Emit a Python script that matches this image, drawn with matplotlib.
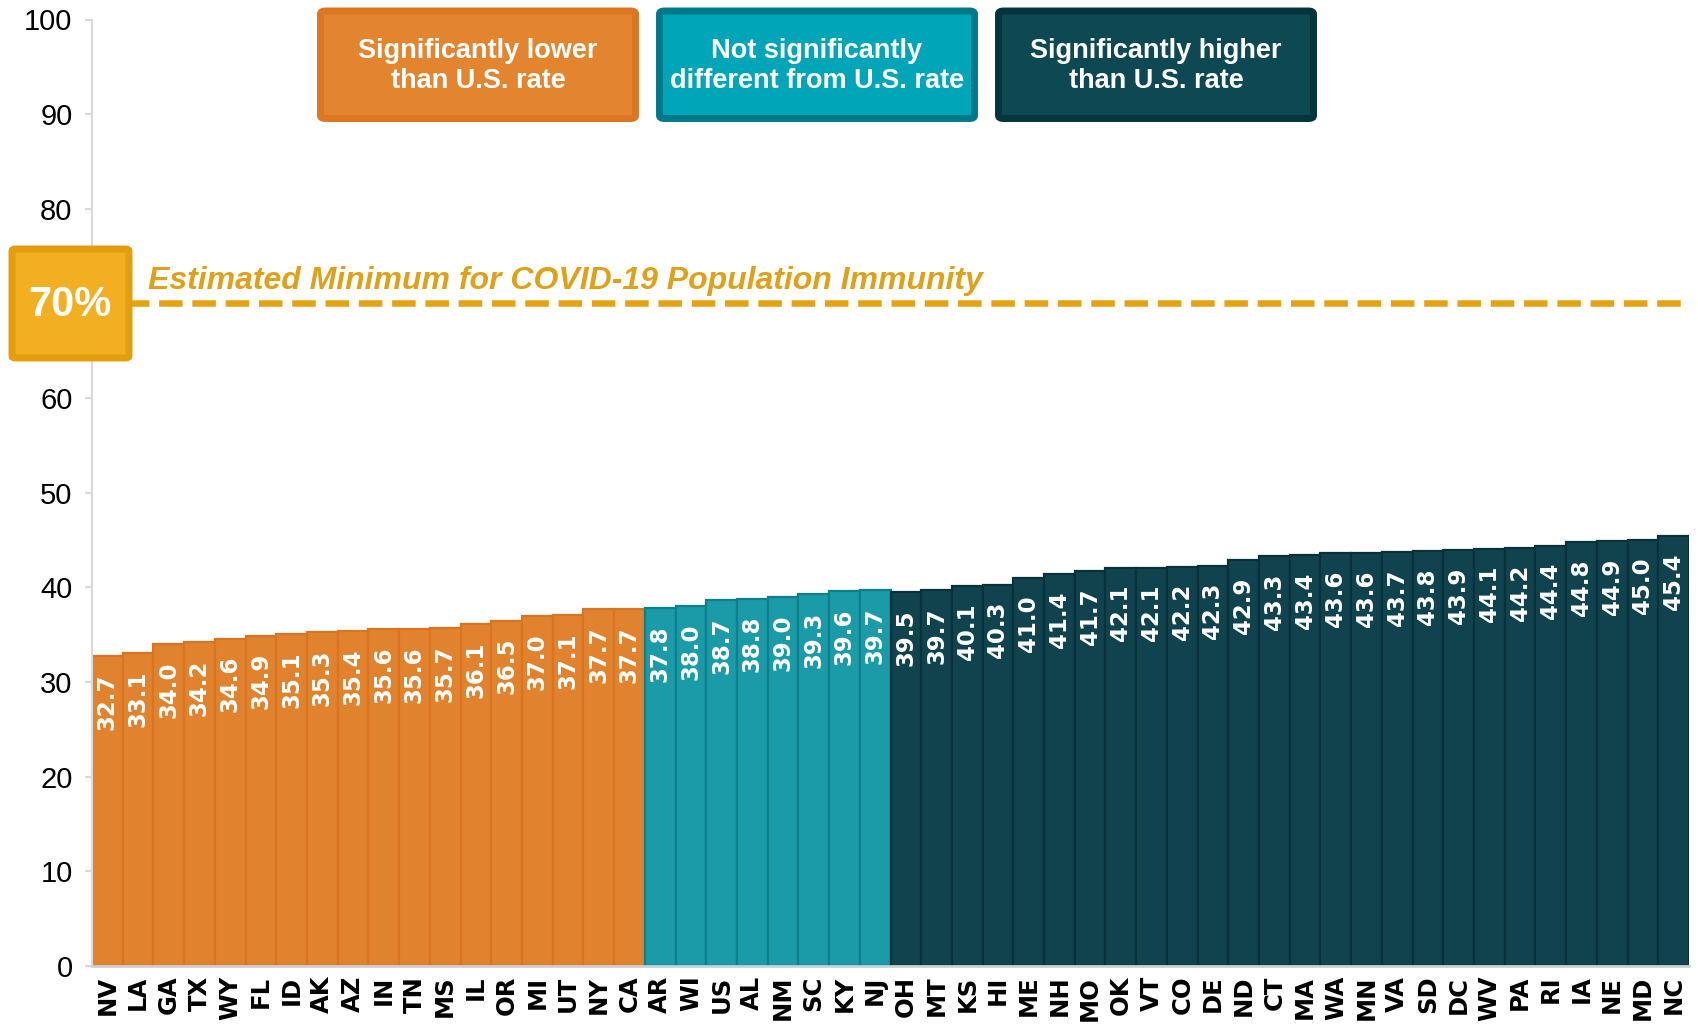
import matplotlib
matplotlib.use("Agg")
import matplotlib.pyplot as plt
from matplotlib.patches import FancyBboxPatch

states = ["NV", "LA", "GA", "TX", "WY", "FL", "ID", "AK", "AZ", "IN", "TN", "MS", "IL", "OR",
          "MI", "UT", "NY", "CA",
          "AR", "WI", "US", "AL", "NM", "SC", "KY", "NJ",
          "OH", "MT", "KS", "HI", "ME", "NH", "MO", "OK", "VT", "CO", "DE", "ND", "CT", "MA",
          "WA", "MN", "VA", "SD", "DC", "WV", "PA", "RI", "IA", "NE", "MD", "NC"]
rates = [32.7, 33.1, 34.0, 34.2, 34.6, 34.9, 35.1, 35.3, 35.4, 35.6, 35.6, 35.7, 36.1, 36.5,
         37.0, 37.1, 37.7, 37.7,
         37.8, 38.0, 38.7, 38.8, 39.0, 39.3, 39.6, 39.7,
         39.5, 39.7, 40.1, 40.3, 41.0, 41.4, 41.7, 42.1, 42.1, 42.2, 42.3, 42.9, 43.3, 43.4,
         43.6, 43.6, 43.7, 43.8, 43.9, 44.1, 44.2, 44.4, 44.8, 44.9, 45.0, 45.4]
significance = ["lower"] * 18 + ["similar"] * 8 + ["higher"] * 26
legend_labels = ["Significantly lower\nthan U.S. rate",
                 "Not significantly\ndifferent from U.S. rate",
                 "Significantly higher\nthan U.S. rate"]
yticks = [0, 10, 20, 30, 40, 50, 60, 70, 80, 90, 100]
ytick_labels = ["0", "10", "20", "30", "40", "50", "60", "", "80", "90", "100"]
threshold = 70
threshold_label = "70%"
threshold_text = "Estimated Minimum for COVID-19 Population Immunity"

bar_fill = {"lower": "#E1822F", "similar": "#1B9AA7", "higher": "#11434F"}
bar_edge = {"lower": "#D97420", "similar": "#0E808C", "higher": "#08323A"}
leg_fill = ["#E3842F", "#00A6B8", "#0E4852"]
leg_edge = ["#DC7620", "#00798A", "#05353C"]

plt.rcParams["font.family"] = ["Liberation Sans", "DejaVu Sans"]

fig = plt.figure(figsize=(16.98, 10.28), dpi=100)
ax = fig.add_axes([92 / 1698, 1 - 966 / 1028, (1689 - 92) / 1698, (966 - 19.5) / 1028])

x = list(range(len(states)))
ax.bar(x, rates, width=1.0,
       color=[bar_fill[s] for s in significance],
       edgecolor=[bar_edge[s] for s in significance],
       linewidth=1.6, zorder=2)

for xi, v in zip(x, rates):
    ax.annotate(f"{v:.1f}", xy=(xi, v), xytext=(0, -12.5), textcoords="offset points",
                rotation=90, ha="center", va="top", color="white",
                fontsize=16.5, fontweight="bold", family="DejaVu Sans", zorder=3)

ax.set_xlim(-0.5, len(states) - 0.5)
ax.set_ylim(0, 100)
ax.set_yticks(yticks)
ax.set_yticklabels(ytick_labels)
ax.set_xticks(x)
ax.set_xticklabels(states, rotation=90, fontsize=17.5, fontweight="bold",
                   family="DejaVu Sans")
ax.tick_params(axis="x", length=0, pad=7)
ax.tick_params(axis="y", length=5, width=1.5, color="#D9D9D9", labelsize=21, pad=9)
for side in ["top", "right"]:
    ax.spines[side].set_visible(False)
ax.spines["left"].set_color("#D9D9D9")
ax.spines["left"].set_linewidth(1.5)
ax.spines["bottom"].set_color("#C8D3D6")
ax.spines["bottom"].set_linewidth(2)
ax.spines["bottom"].set_zorder(3)

# threshold line
ax.axhline(threshold, color="#E5A313", linewidth=4.7, dashes=(3.6, 1.5), zorder=4)
ax.text((148 - 92) / 1597, 72.4, threshold_text, transform=ax.get_yaxis_transform(),
        ha="left", va="center", fontsize=23, fontweight="bold", style="italic",
        color="#E0A11A", zorder=5)

# 70% box (figure coordinates)
W, H = 1698, 1028
def fig_box(x0, y0, x1, y1, fc, ec, lw, r):
    p = FancyBboxPatch((x0 / W, 1 - y1 / H), (x1 - x0) / W, (y1 - y0) / H,
                       boxstyle=f"round,pad=0,rounding_size={r}",
                       transform=fig.transFigure, facecolor=fc, edgecolor=ec,
                       linewidth=lw, zorder=10)
    fig.add_artist(p)
    return p

fig_box(12, 249, 129, 358, "#F2AF22", "#E39D0F", 5, 0.002)
fig.text(70 / W, 1 - 305 / H, threshold_label, ha="center", va="center",
         fontsize=30, fontweight="bold", color="white", zorder=11)

# legend boxes
lefts = [317, 656, 995]
for lx, lab, fc, ec in zip(lefts, legend_labels, leg_fill, leg_edge):
    fig_box(lx + 3.5, 11, lx + 322 - 3.5, 118.5, fc, ec, 5, 0.003)
    fig.text((lx + 161) / W, 1 - 66 / H, lab, ha="center", va="center",
             fontsize=19.5, fontweight="bold", color="white", linespacing=1.15,
             zorder=11)

fig.savefig("out.png", dpi=100)
